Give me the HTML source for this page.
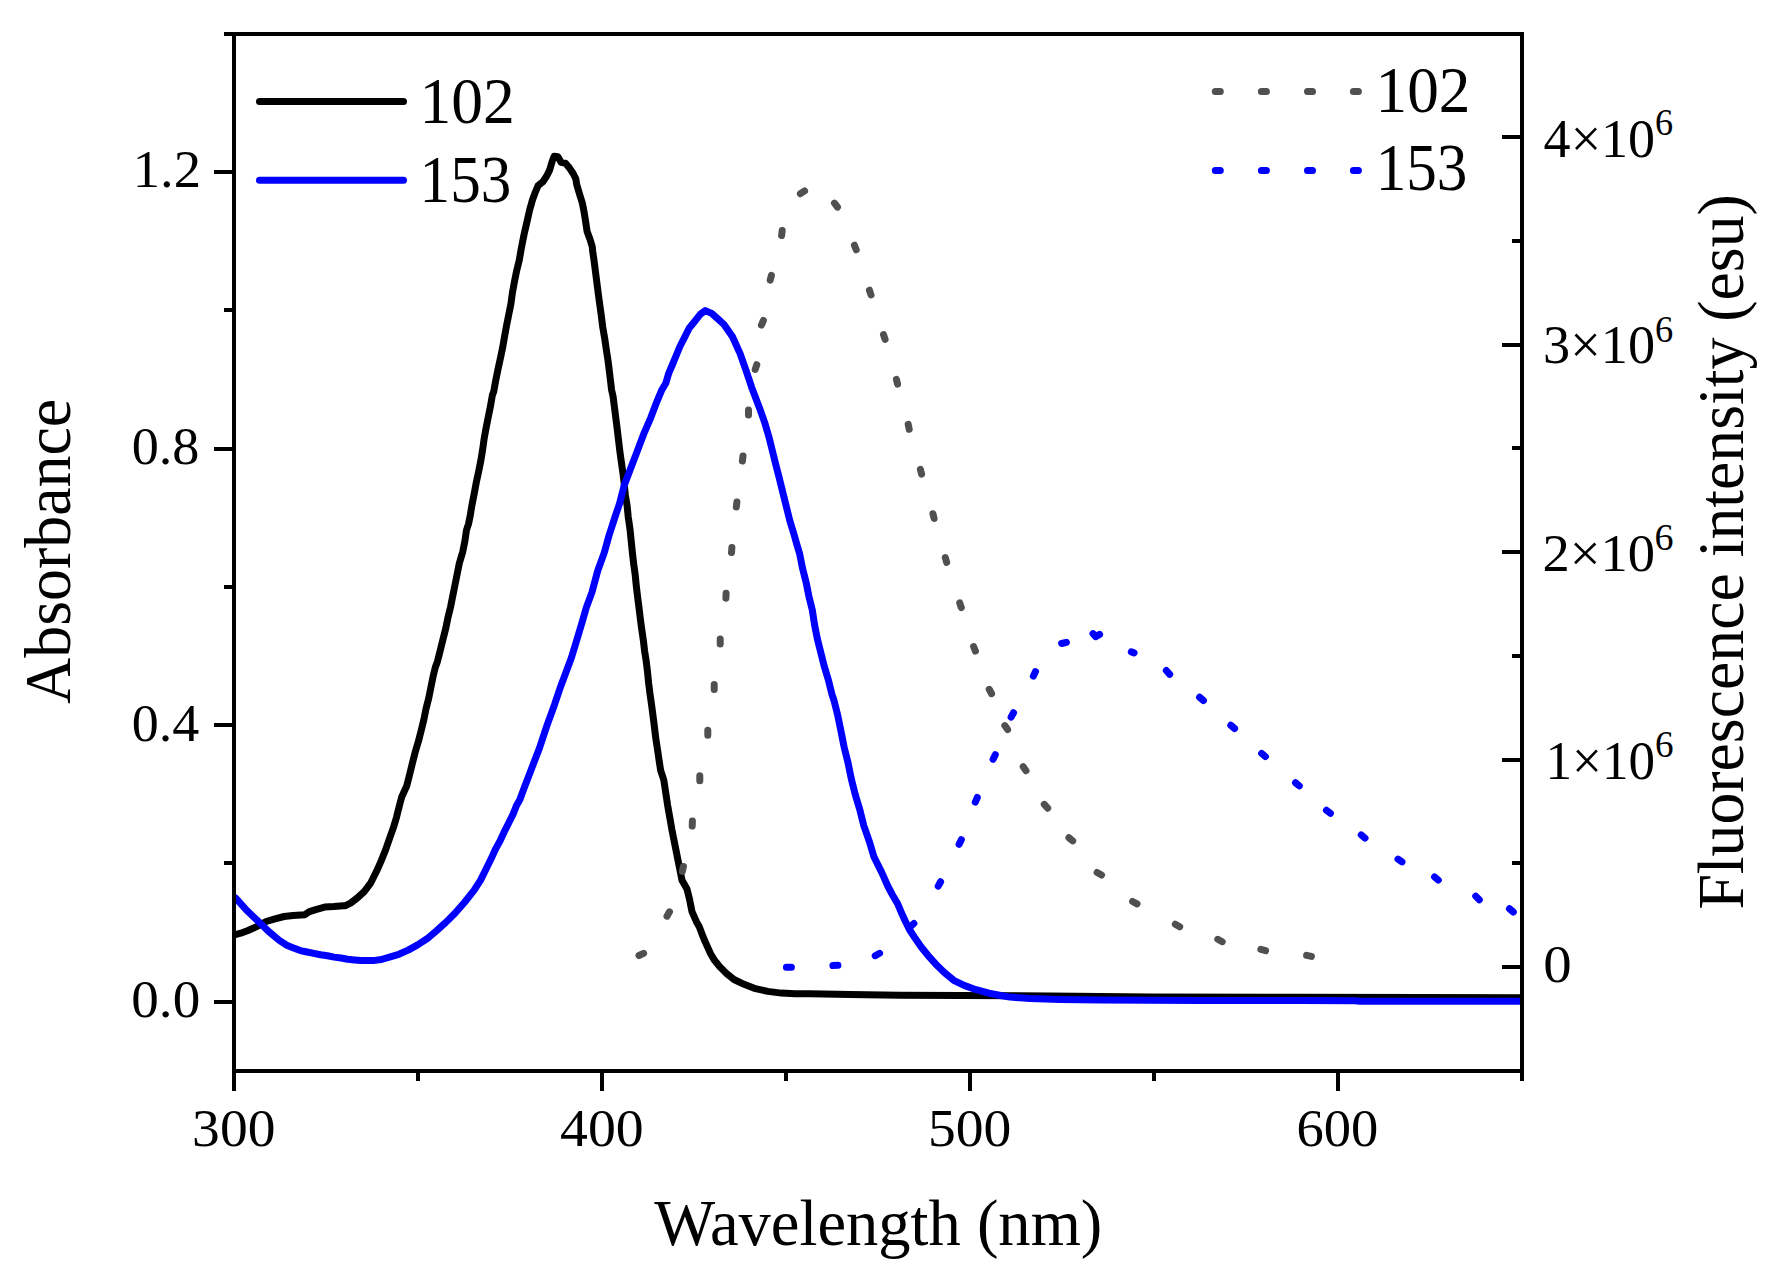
<!DOCTYPE html>
<html><head><meta charset="utf-8"><title>Absorbance and fluorescence spectra</title>
<style>html,body{margin:0;padding:0;background:#fff;overflow:hidden;}svg{display:block;}</style>
</head><body>
<svg width="1774" height="1277" viewBox="0 0 1774 1277">
<rect width="1774" height="1277" fill="#fff"/>
<path d="M234.0 934.6 L235.4 934.6 L240.8 933.2 L248.0 930.5 L257.1 926.4 L266.1 921.5 L275.1 918.8 L284.1 916.5 L293.1 915.6 L304.9 914.7 L309.4 911.6 L316.6 909.3 L324.7 907.1 L333.7 906.6 L343.6 905.7 L345.0 905.8 L350.5 903.1 L357.1 898.1 L364.2 891.6 L370.8 882.8 L376.3 871.8 L381.2 860.8 L385.6 849.9 L389.4 838.9 L393.3 827.9 L396.6 816.9 L399.3 806.0 L401.8 796.7 L406.8 785.7 L409.6 774.7 L412.3 763.7 L415.0 752.8 L418.3 741.8 L421.1 730.8 L423.8 719.9 L426.0 708.9 L428.8 697.9 L431.0 686.9 L433.2 676.0 L435.4 667.0 L437.4 661.7 L440.2 650.7 L442.9 639.7 L445.7 628.7 L447.9 617.8 L450.6 606.8 L452.8 595.8 L455.0 584.9 L457.2 573.9 L459.4 562.9 L462.7 551.9 L464.9 541.0 L466.5 530.0 L468.5 524.0 L470.2 515.7 L472.0 504.7 L474.2 493.7 L476.2 482.8 L478.6 471.8 L480.8 460.8 L482.6 449.9 L484.1 438.9 L486.1 427.9 L488.3 416.9 L490.5 406.0 L492.4 395.0 L493.7 391.7 L495.7 380.7 L497.9 369.7 L500.3 358.7 L502.6 347.8 L504.5 336.8 L506.5 325.8 L508.7 314.9 L510.9 303.9 L512.4 292.9 L514.4 281.9 L516.6 271.0 L519.3 260.0 L521.3 248.4 L524.1 234.3 L526.9 222.1 L529.7 209.8 L532.6 199.5 L535.4 192.0 L538.2 185.4 L542.9 181.7 L546.7 176.0 L549.5 170.4 L552.3 161.0 L554.2 156.3 L557.9 156.7 L561.2 162.4 L565.5 163.3 L569.2 167.6 L573.0 173.2 L575.8 178.8 L576.7 184.5 L579.5 193.9 L582.4 203.3 L584.2 212.7 L585.7 222.1 L587.1 231.5 L589.9 239.0 L592.2 246.5 L592.8 252.0 L594.1 261.0 L595.5 271.9 L596.9 282.9 L598.3 293.9 L599.8 304.9 L601.3 315.8 L602.7 326.8 L604.6 337.8 L606.2 348.7 L607.9 359.7 L609.3 370.7 L610.6 381.7 L611.6 390.0 L613.0 396.0 L614.4 406.9 L615.8 417.9 L617.2 428.9 L618.5 439.9 L619.8 450.8 L621.3 461.8 L622.9 472.8 L624.2 483.7 L625.3 494.7 L627.1 505.7 L628.2 516.7 L629.4 525.0 L630.2 531.0 L631.3 541.9 L632.4 552.9 L633.7 563.9 L635.2 574.9 L636.3 585.8 L637.6 596.8 L639.0 607.8 L640.3 618.7 L641.8 629.7 L643.4 640.7 L644.6 651.0 L646.2 661.0 L647.5 671.9 L648.6 682.9 L650.0 693.9 L651.6 704.9 L653.0 715.8 L654.4 726.8 L655.7 737.8 L657.4 748.7 L659.0 759.7 L660.7 770.7 L663.8 780.0 L665.7 792.5 L667.6 805.1 L669.8 817.6 L672.0 830.2 L674.5 842.7 L677.0 855.2 L679.5 867.8 L682.0 880.3 L687.0 889.1 L689.5 899.1 L692.0 911.7 L696.4 921.7 L699.3 926.8 L701.8 933.5 L704.5 940.3 L707.6 947.1 L710.6 953.8 L714.7 960.6 L720.4 967.4 L726.5 973.5 L734.0 979.5 L744.1 984.3 L754.3 988.3 L767.8 991.4 L781.3 993.1 L794.9 993.7 L810.0 993.8 L850.0 994.6 L900.0 995.2 L960.0 995.5 L1050.0 996.0 L1150.0 997.0 L1300.0 997.3 L1420.0 997.6 L1522.0 997.7" fill="none" stroke="#000" stroke-width="7" stroke-linejoin="round" stroke-linecap="butt"/>
<path d="M234.0 897.5 L235.5 897.9 L246.4 910.0 L257.4 920.6 L268.4 931.3 L279.3 940.4 L286.8 945.3 L293.5 948.0 L300.3 950.6 L307.1 952.0 L313.8 953.4 L320.6 954.8 L327.4 955.8 L334.1 957.1 L340.9 958.0 L347.7 959.3 L354.4 959.9 L361.2 960.4 L368.0 960.6 L374.7 960.4 L381.5 959.5 L389.4 957.1 L398.8 954.3 L408.2 950.1 L417.6 944.9 L427.0 938.8 L436.4 930.8 L445.8 922.4 L455.2 913.0 L464.6 902.2 L474.0 890.4 L480.6 880.1 L486.2 868.8 L491.7 857.4 L495.8 848.6 L500.1 840.8 L504.5 831.3 L508.8 822.7 L513.1 814.1 L516.5 805.5 L519.7 800.0 L524.8 786.2 L530.1 772.4 L539.5 748.0 L547.0 725.4 L554.5 704.7 L560.2 687.8 L565.8 672.8 L571.4 657.7 L577.1 638.9 L582.7 620.2 L586.3 607.6 L592.0 592.1 L597.8 570.5 L604.2 552.9 L609.1 535.3 L614.8 517.6 L619.6 503.3 L624.2 485.5 L630.8 467.9 L637.6 450.3 L644.3 432.6 L650.8 417.6 L657.2 400.8 L661.6 390.3 L665.8 383.2 L668.7 373.3 L672.9 363.5 L676.4 355.0 L679.9 346.5 L684.2 338.1 L689.1 328.2 L694.8 321.2 L700.4 314.1 L705.3 310.6 L711.7 313.4 L718.7 319.7 L724.0 324.5 L732.5 336.8 L740.2 353.9 L745.4 368.7 L751.8 387.7 L759.6 408.2 L764.6 422.3 L768.8 436.4 L772.3 450.5 L775.8 464.6 L779.4 478.7 L782.9 492.8 L786.4 506.9 L789.9 521.0 L794.2 535.1 L797.0 545.0 L799.7 554.1 L802.5 568.2 L806.1 582.3 L808.9 596.3 L812.4 610.4 L814.5 624.5 L817.3 638.6 L820.8 652.7 L824.4 666.8 L828.6 680.8 L832.1 694.9 L833.9 700.0 L837.8 715.7 L841.0 731.3 L844.1 747.0 L848.0 762.7 L851.2 778.4 L855.1 794.0 L859.8 809.7 L863.7 825.4 L869.2 841.1 L873.9 856.7 L881.7 872.4 L888.0 886.5 L892.5 895.0 L897.6 903.6 L901.2 912.2 L905.1 920.8 L909.4 929.5 L915.0 938.1 L921.0 946.7 L927.9 955.3 L935.6 963.9 L944.3 972.5 L953.7 980.3 L964.1 985.4 L976.1 989.7 L989.0 993.2 L1002.0 995.8 L1010.0 997.1 L1030.0 998.5 L1060.0 999.5 L1100.0 1000.0 L1200.0 1000.4 L1300.0 1000.6 L1355.0 1000.7 L1360.0 1001.2 L1450.0 1001.3 L1522.0 1001.3" fill="none" stroke="#00f" stroke-width="7" stroke-linejoin="round" stroke-linecap="butt"/>
<path d="M639.0 955.5 L643.6 953.3 M667.0 916.2 L669.5 911.8 M682.4 871.3 L683.4 866.5 M692.2 826.1 L692.4 821.1 M699.8 780.7 L699.8 775.7 M707.8 735.2 L707.8 730.2 M714.2 689.5 L714.2 684.5 M720.2 644.1 L720.2 639.1 M725.9 598.2 L726.1 593.2 M731.5 552.5 L731.9 547.5 M736.3 507.1 L736.9 502.1 M742.4 461.0 L743.0 456.0 M748.5 415.1 L748.5 410.1 M755.2 369.5 L756.8 364.7 M761.4 325.1 L763.4 320.5 M770.2 280.2 L771.4 275.4 M781.6 235.5 L782.2 230.5 M800.4 193.7 L804.6 190.9 M834.5 203.1 L837.5 207.1 M854.4 245.2 L856.2 249.8 M869.4 290.2 L871.0 295.0 M883.5 334.6 L885.1 339.4 M896.4 379.4 L897.6 384.2 M908.2 424.4 L909.2 429.2 M920.4 469.4 L921.6 474.2 M932.9 513.7 L934.1 518.5 M945.3 557.6 L946.7 562.4 M959.7 602.9 L961.3 607.7 M973.6 646.5 L975.4 651.1 M989.2 689.3 L991.6 693.7 M1004.8 725.6 L1007.6 729.6 M1023.2 766.7 L1026.0 770.7 M1044.3 804.4 L1047.7 808.2 M1068.9 837.7 L1072.7 840.9 M1097.1 872.5 L1101.5 875.0 M1132.6 901.5 L1137.0 903.9 M1175.3 924.2 L1179.7 926.8 M1217.8 939.3 L1222.2 941.7 M1260.8 949.4 L1265.6 950.6 M1306.6 955.4 L1311.4 956.4" fill="none" stroke="#505050" stroke-width="7" stroke-linecap="round" stroke-linejoin="round"/>
<path d="M786.4 967.3 L791.4 967.3 M832.9 965.5 L837.9 965.3 M875.2 955.7 L879.6 953.3 M910.1 926.9 L913.9 923.5 M938.2 886.1 L940.6 881.7 M959.1 844.3 L961.3 839.7 M975.3 802.1 L977.3 797.5 M993.1 759.3 L995.3 754.7 M1011.1 717.1 L1013.5 712.7 M1033.3 676.2 L1035.5 671.6 M1061.6 643.5 L1066.4 642.3 M1093 633.6 L1095.7 636.6 L1099.6 634.4 M1131.3 651.9 L1134.1 652.9 M1166.3 670.5 L1169.7 674.3 M1199.6 697.3 L1203.4 700.5 M1230.8 725.3 L1234.6 728.5 M1261.6 753.4 L1265.4 756.6 M1295.5 782.7 L1299.3 785.9 M1326.4 810.3 L1330.4 813.3 M1361.2 834.9 L1365.0 838.1 M1398.0 859.1 L1402.0 861.9 M1434.5 876.9 L1438.3 880.1 M1475.7 896.1 L1479.3 899.7 M1509.5 908.8 L1513.3 912.0" fill="none" stroke="#00f" stroke-width="7" stroke-linecap="round" stroke-linejoin="round"/>
<path d="M224 34 L1524 34 M234 32 L234 1091 M1522 32 L1522 1073 M232 1071 L1524 1071 M234.0 1073 L234.0 1091 M418.0 1073 L418.0 1081 M602.0 1073 L602.0 1091 M786.0 1073 L786.0 1081 M970.0 1073 L970.0 1091 M1154.0 1073 L1154.0 1081 M1338.0 1073 L1338.0 1091 M1522.0 1073 L1522.0 1081 M232 1002.0 L214 1002.0 M232 863.0 L224 863.0 M232 725.0 L214 725.0 M232 587.0 L224 587.0 M232 449.0 L214 449.0 M232 310.0 L224 310.0 M232 172.0 L214 172.0 M1520 967.0 L1502 967.0 M1520 863.0 L1512 863.0 M1520 760.0 L1502 760.0 M1520 656.0 L1512 656.0 M1520 552.0 L1502 552.0 M1520 448.0 L1512 448.0 M1520 345.0 L1502 345.0 M1520 241.0 L1512 241.0 M1520 137.0 L1502 137.0" fill="none" stroke="#000" stroke-width="4" stroke-linecap="butt"/>
<text transform="translate(192.12 1146.27) scale(1.0470 1)" font-family="'Liberation Serif','Times New Roman',serif" font-size="53.04" fill="#000">300</text>
<text transform="translate(560.08 1146.47) scale(1.0427 1)" font-family="'Liberation Serif','Times New Roman',serif" font-size="53.48" fill="#000">400</text>
<text transform="translate(927.97 1146.27) scale(1.0420 1)" font-family="'Liberation Serif','Times New Roman',serif" font-size="53.33" fill="#000">500</text>
<text transform="translate(1296.54 1146.27) scale(1.0230 1)" font-family="'Liberation Serif','Times New Roman',serif" font-size="53.33" fill="#000">600</text>
<text transform="translate(131.29 1016.91) scale(1.0471 1)" font-family="'Liberation Serif','Times New Roman',serif" font-size="52.65" fill="#000">0.0</text>
<text transform="translate(131.64 741.30) scale(1.0155 1)" font-family="'Liberation Serif','Times New Roman',serif" font-size="53.24" fill="#000">0.4</text>
<text transform="translate(131.63 464.30) scale(1.0179 1)" font-family="'Liberation Serif','Times New Roman',serif" font-size="53.24" fill="#000">0.8</text>
<text transform="translate(132.68 186.90) scale(1.0306 1)" font-family="'Liberation Serif','Times New Roman',serif" font-size="53.04" fill="#000">1.2</text>
<text transform="translate(1543.22 982.17) scale(1.0699 1)" font-family="'Liberation Serif','Times New Roman',serif" font-size="53.19" fill="#000">0</text>
<text transform="translate(1545.52 778.56) scale(0.9798 1)" font-family="'Liberation Serif','Times New Roman',serif" font-size="54.22" fill="#000">1×10</text>
<text transform="translate(1655.03 756.62) scale(0.9845 1)" font-family="'Liberation Serif','Times New Roman',serif" font-size="37.76" fill="#000">6</text>
<text transform="translate(1542.44 571.47) scale(1.0208 1)" font-family="'Liberation Serif','Times New Roman',serif" font-size="53.48" fill="#000">2×10</text>
<text transform="translate(1654.58 549.53) scale(1.0216 1)" font-family="'Liberation Serif','Times New Roman',serif" font-size="37.31" fill="#000">6</text>
<text transform="translate(1543.09 363.46) scale(1.0056 1)" font-family="'Liberation Serif','Times New Roman',serif" font-size="53.93" fill="#000">3×10</text>
<text transform="translate(1654.96 341.53) scale(0.9774 1)" font-family="'Liberation Serif','Times New Roman',serif" font-size="37.31" fill="#000">6</text>
<text transform="translate(1543.62 156.56) scale(1.0017 1)" font-family="'Liberation Serif','Times New Roman',serif" font-size="53.93" fill="#000">4×10</text>
<text transform="translate(1654.97 134.72) scale(0.9558 1)" font-family="'Liberation Serif','Times New Roman',serif" font-size="37.91" fill="#000">6</text>
<text transform="translate(419.38 123.13) scale(0.9553 1)" font-family="'Liberation Serif','Times New Roman',serif" font-size="66.52" fill="#000">102</text>
<text transform="translate(419.60 202.03) scale(0.9117 1)" font-family="'Liberation Serif','Times New Roman',serif" font-size="67.01" fill="#000">153</text>
<text transform="translate(1375.50 112.03) scale(0.9519 1)" font-family="'Liberation Serif','Times New Roman',serif" font-size="66.52" fill="#000">102</text>
<text transform="translate(1375.69 190.23) scale(0.9107 1)" font-family="'Liberation Serif','Times New Roman',serif" font-size="67.16" fill="#000">153</text>
<text transform="translate(654.20 1245.23) scale(0.9916 1)" font-family="'Liberation Serif','Times New Roman',serif" font-size="65.08" fill="#000">Wavelength (nm)</text>
<text transform="translate(70.15 703.94) rotate(-90) scale(0.9768 1)" font-family="'Liberation Serif','Times New Roman',serif" font-size="65.43" fill="#000">Absorbance</text>
<text transform="translate(1743.03 909.61) rotate(-90) scale(0.9795 1)" font-family="'Liberation Serif','Times New Roman',serif" font-size="65.11" fill="#000">Fluorescence intensity (esu)</text>
<path d="M259.5 101.5 L403.5 101.5" stroke="#000" stroke-width="7" stroke-linecap="round"/>
<path d="M259.5 180.3 L403.5 180.3" stroke="#00f" stroke-width="7" stroke-linecap="round"/>
<path d="M1215.3 91.5 L1220.3 91.5 M1261.4 91.5 L1266.4 91.5 M1307.5 91.5 L1312.5 91.5 M1353.4 91.5 L1358.4 91.5" stroke="#505050" stroke-width="7" stroke-linecap="round"/>
<path d="M1215.3 170.5 L1220.3 170.5 M1261.4 170.5 L1266.4 170.5 M1307.5 170.5 L1312.5 170.5 M1353.4 170.5 L1358.4 170.5" stroke="#00f" stroke-width="7" stroke-linecap="round"/>
</svg>
</body></html>
